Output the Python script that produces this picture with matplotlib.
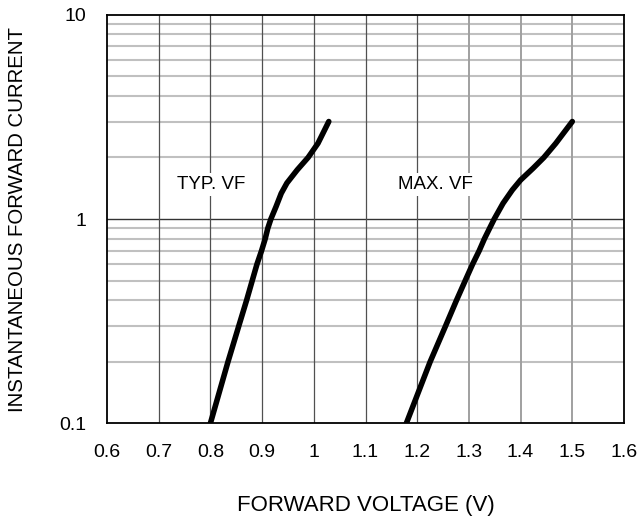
import numpy as np
import matplotlib
matplotlib.use("Agg")
from matplotlib import pyplot as plt

# curve data (forward voltage V, current A)
typ_vf = [0.800, 0.834, 0.855, 0.870, 0.881, 0.890, 0.899, 0.906, 0.911, 0.917,
          0.927, 0.937, 0.948, 0.968, 0.989, 1.008, 1.029]
typ_if = [0.10, 0.20, 0.30, 0.40, 0.50, 0.60, 0.70, 0.80, 0.90, 1.00,
          1.15, 1.335, 1.50, 1.74, 2.00, 2.345, 3.00]

max_vf = [1.179, 1.225, 1.255, 1.276, 1.293, 1.307, 1.320, 1.330, 1.340, 1.349,
          1.366, 1.384, 1.400, 1.424, 1.445, 1.468, 1.500]
max_if = [0.10, 0.20, 0.30, 0.40, 0.50, 0.60, 0.70, 0.80, 0.90, 1.00,
          1.193, 1.387, 1.552, 1.77, 2.00, 2.345, 3.00]

x_ticks = [0.6, 0.7, 0.8, 0.9, 1.0, 1.1, 1.2, 1.3, 1.4, 1.5, 1.6]
x_tick_labels = ['0.6', '0.7', '0.8', '0.9', '1', '1.1', '1.2', '1.3', '1.4', '1.5', '1.6']
y_ticks = [0.1, 1, 10]
y_tick_labels = ['0.1', '1', '10']

labels = ['TYP. VF', 'MAX. VF']
label_pos = [(0.802, 1.48), (1.235, 1.48)]

plt.rcParams['font.family'] = ['Liberation Sans', 'DejaVu Sans']

W, H = 639, 522
fig = plt.figure(figsize=(W / 100, H / 100), dpi=100)
ax = fig.add_axes([107 / W, 1 - 423.3 / H, (624 - 107) / W, (423.3 - 14.7) / H])
ax.set_yscale('log')
ax.set_xlim(0.6, 1.6)
ax.set_ylim(0.1, 10)

# grid
for dec in [0.1, 1]:
    for m in range(2, 10):
        ax.axhline(dec * m, color='#c0c0c0', lw=1.5, zorder=1)
ax.axhline(1, color='#333333', lw=1.0, zorder=1)
for xv in x_ticks[1:-1]:
    if xv < 1.25:
        ax.axvline(xv, color='#505050', lw=0.9, zorder=1)
    else:
        ax.axvline(xv, color='#a0a0a0', lw=1.4, zorder=1)

ax.plot(typ_vf, typ_if, color='black', lw=4, solid_capstyle='round',
        solid_joinstyle='round', zorder=3)
ax.plot(max_vf, max_if, color='black', lw=4, solid_capstyle='round',
        solid_joinstyle='round', zorder=3)

for txt, (tx, ty) in zip(labels, label_pos):
    ax.text(tx, ty, txt, fontsize=13.5, ha='center', va='center', zorder=2,
            bbox=dict(facecolor='white', edgecolor='none', pad=2))

ax.set_xticks(x_ticks)
ax.set_xticklabels(x_tick_labels)
ax.set_yticks(y_ticks)
ax.set_yticklabels(y_tick_labels)
ax.minorticks_off()
ax.tick_params(length=0, labelsize=14)
ax.tick_params(axis='x', pad=15)
ax.tick_params(axis='y', pad=15)

for s in ax.spines.values():
    s.set_linewidth(1.3)
    s.set_color('black')

ax.set_xlabel('FORWARD VOLTAGE (V)', fontsize=16)
ax.set_ylabel('INSTANTANEOUS FORWARD CURRENT', fontsize=14.7)
ax.xaxis.set_label_coords(0.5, -(505 - 423.3) / (423.3 - 14.7), transform=ax.transAxes)
ax.xaxis.label.set_va('center')
ax.yaxis.set_label_coords(-(107 - 17.5) / (624 - 107), 0.5, transform=ax.transAxes)
ax.yaxis.label.set_va('center')

fig.savefig('out.png', dpi=100)
